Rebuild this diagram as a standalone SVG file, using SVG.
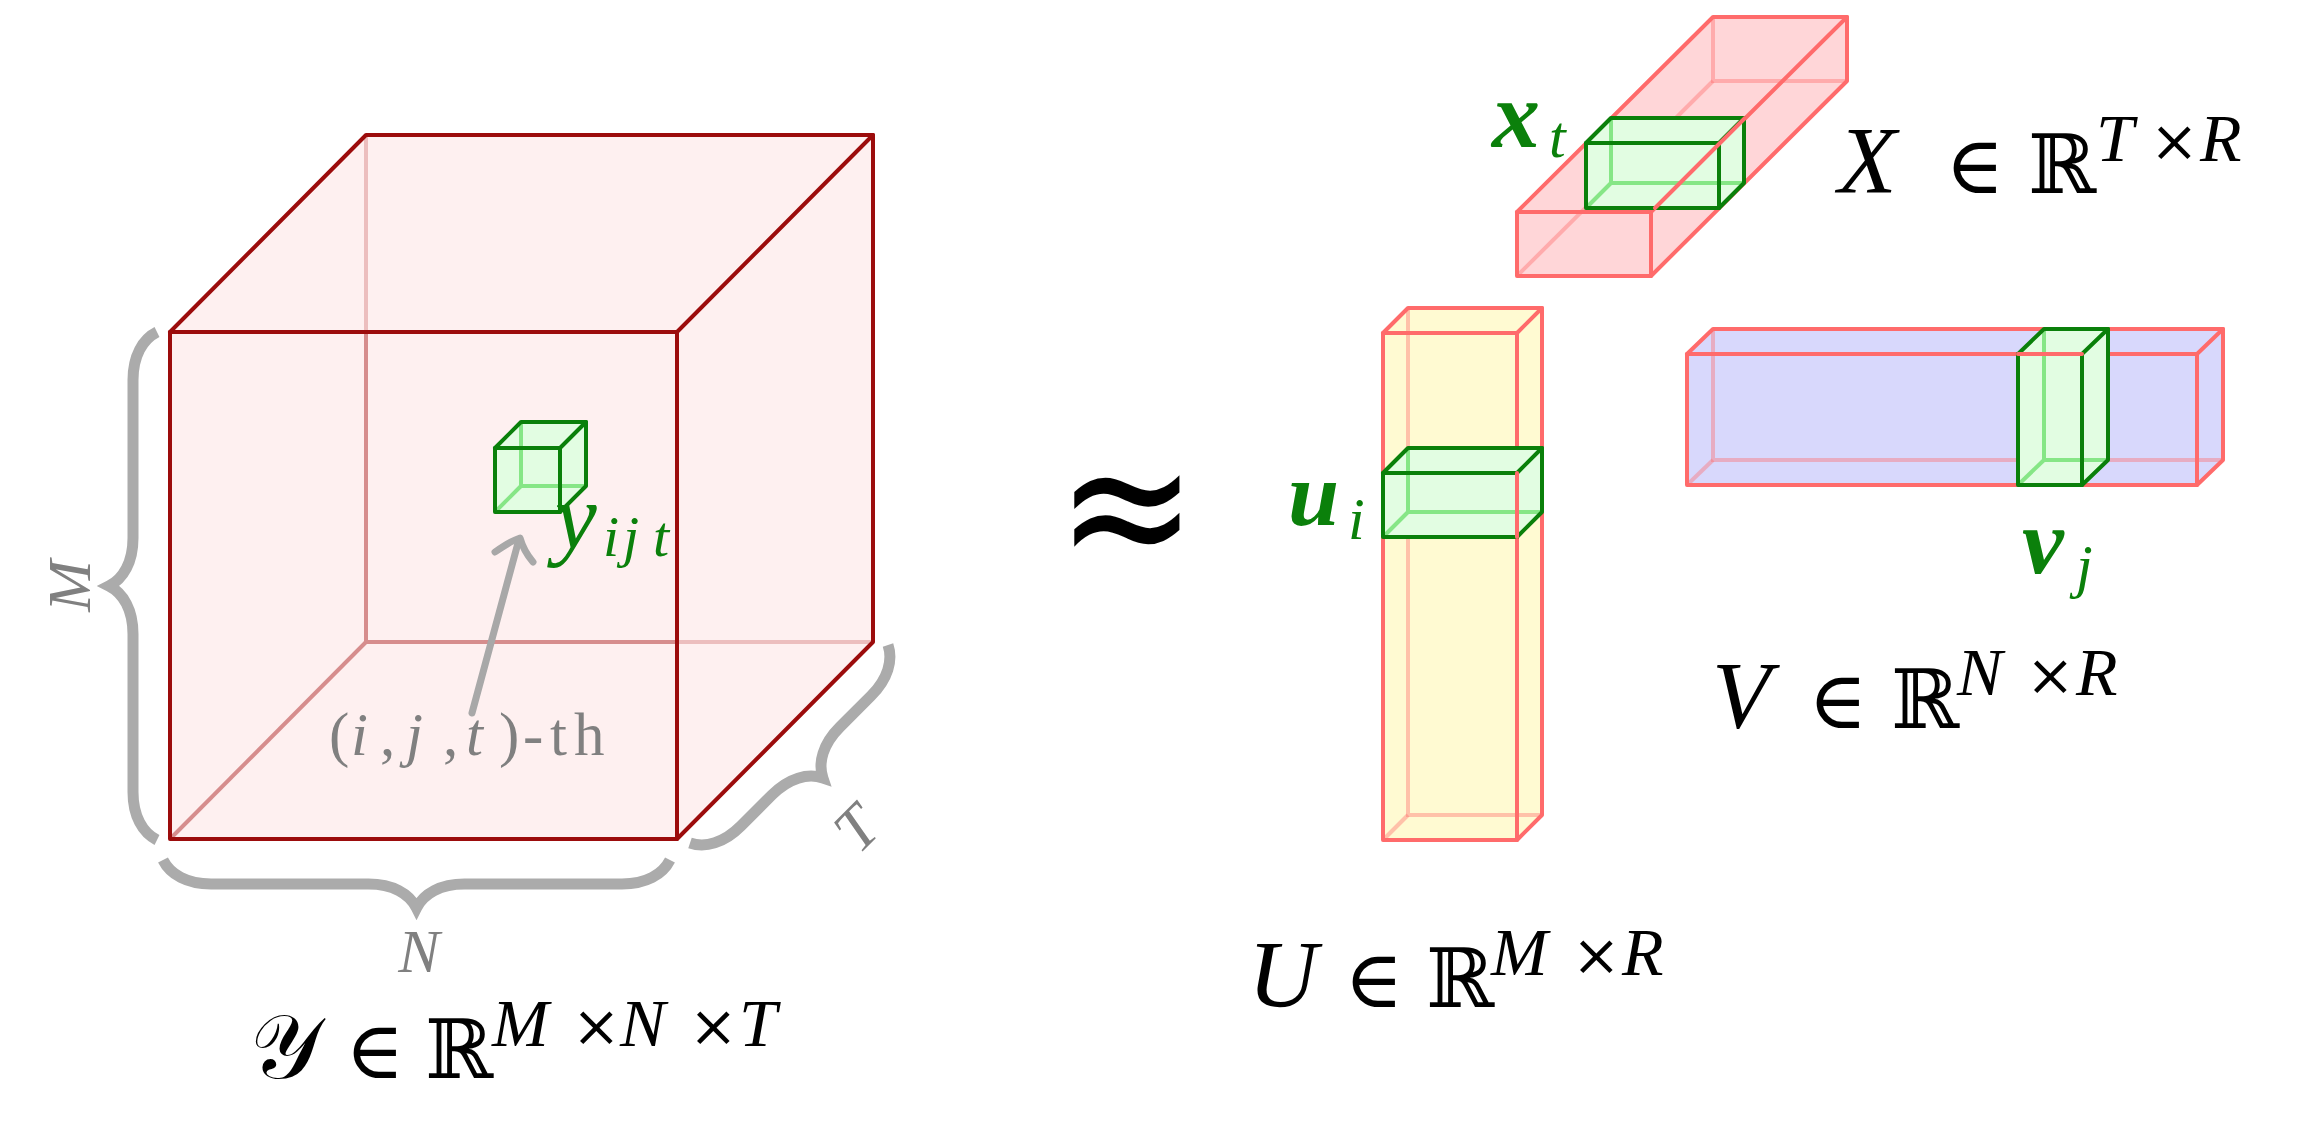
<svg xmlns="http://www.w3.org/2000/svg" width="2300" height="1136" viewBox="0 0 2300 1136">
<style>
.cubeE{fill:none;stroke:#9c0c0c;stroke-width:4;stroke-linejoin:round;stroke-linecap:round}
.cubeHin{fill:none;stroke:#d68d8d;stroke-width:4}
.cubeHout{fill:none;stroke:#ecbebe;stroke-width:4}
.barE{fill:none;stroke:#ff6b6b;stroke-width:4;stroke-linejoin:round;stroke-linecap:round}
.barH{fill:none;stroke:#ff6b6b;stroke-opacity:0.4;stroke-width:4}
.grE{fill:none;stroke:#0a800a;stroke-width:4;stroke-linejoin:round;stroke-linecap:round}
.grH{fill:none;stroke:#86e686;stroke-width:4}
.grF{fill:#e2fde2}
.brace{fill:none;stroke:#ababab;stroke-width:11;stroke-linecap:butt}
.gray{fill:#808080;font-family:"Liberation Serif","DejaVu Serif",serif;font-style:italic}
.math{font-family:"Liberation Serif","DejaVu Serif",serif;font-style:italic;fill:#000}
.sym{font-family:"DejaVu Serif","DejaVu Sans",serif;font-style:normal}
.grT{fill:#0b800b;font-family:"Liberation Serif","DejaVu Serif",serif;font-style:italic}
.up{font-style:normal}
</style>

<g id="tensor-Y">
  <polygon points="170,332 366,135 873,135 873,642 677,839 170,839" fill="#fef0f0"/>
  <line class="cubeHout" x1="366" y1="135" x2="366" y2="332"/>
  <line class="cubeHin" x1="366" y1="332" x2="366" y2="642"/>
  <line class="cubeHin" x1="366" y1="642" x2="677" y2="642"/>
  <line class="cubeHout" x1="677" y1="642" x2="873" y2="642"/>
  <line class="cubeHin" x1="366" y1="642" x2="170" y2="839"/>
  <rect class="cubeE" x="170" y="332" width="507" height="507"/>
  <polyline class="cubeE" points="170,332 366,135 873,135 677,332"/>
  <polyline class="cubeE" points="873,135 873,642 677,839"/>
</g>

<g id="cell-y">
  <polygon class="grF" points="495,448 521,422 586,422 586,486 560,512 495,512"/>
  <polyline class="grH" points="521,422 521,486 586,486"/>
  <line class="grH" x1="521" y1="486" x2="495" y2="512"/>
  <rect class="grE" x="495" y="448" width="65" height="64"/>
  <polyline class="grE" points="495,448 521,422 586,422 560,448"/>
  <polyline class="grE" points="586,422 586,486 560,512"/>
  <text class="grT" y="548" font-size="94"><tspan x="555">y</tspan><tspan x="603" y="556" font-size="58">i</tspan><tspan x="623" y="556" font-size="58">j</tspan><tspan x="653" y="556" font-size="58">t</tspan></text>
</g>

<g id="braces">
  <path class="brace" d="M157,840 C142.6,832.8 133,816 133,792 L133,634 C133,610 123.4,593.2 109,586 C123.4,578.8 133,562 133,538 L133,380 C133,356 142.6,339.2 157,332"/>
  <path class="brace" d="M163,860 C170.2,874.4 187,884 211,884 L368.5,884 C392.5,884 409.3,893.6 416.5,908 C423.7,893.6 440.5,884 464.5,884 L622,884 C646,884 662.8,874.4 670,860"/>
  <path class="brace" d="M690,843 C705.3,848.1 723.9,843 740.9,826 L772,794.9 C789,778 807.7,772.9 822.9,778 C817.8,762.7 822.9,744 839.9,727 L871,695.9 C888,679 893.1,660.3 888,645"/>
  <text class="gray" font-size="62" text-anchor="middle" transform="translate(90,586) rotate(-90)">M</text>
  <text class="gray" font-size="62" text-anchor="middle" x="419" y="972">N</text>
  <text class="gray" font-size="62" text-anchor="middle" transform="translate(871,843) rotate(-45)">T</text>
</g>

<g id="connectors">
  <line x1="472" y1="713" x2="518" y2="543" stroke="#a8a8a8" stroke-width="7" stroke-linecap="round"/>
  <path d="M495,552 C505,545 513,540 520,538 C522,545 527,555 533,562" fill="none" stroke="#a8a8a8" stroke-width="7" stroke-linecap="round" stroke-linejoin="round"/>
</g>

<g id="label-ijt">
  <text class="gray" font-size="61" y="755"><tspan x="329" class="up">(</tspan><tspan x="351">i</tspan><tspan x="380" class="up">,</tspan><tspan x="406">j</tspan><tspan x="443" class="up">,</tspan><tspan x="466">t</tspan><tspan x="499" class="up">)</tspan><tspan x="523" class="up">-</tspan><tspan x="550" class="up">t</tspan><tspan x="574" class="up">h</tspan></text>
</g>

<g id="label-Y">
  <text class="math" y="1078" font-size="94"><tspan x="250" class="sym" font-size="90">𝒴</tspan><tspan x="345" class="sym" font-size="80">∈</tspan><tspan x="425" class="sym" font-size="82">ℝ</tspan><tspan x="492" y="1046" font-size="68">M</tspan><tspan x="572" y="1046" class="sym" font-size="58">×</tspan><tspan x="620" y="1046" font-size="68">N</tspan><tspan x="689" y="1046" class="sym" font-size="58">×</tspan><tspan x="739" y="1046" font-size="68">T</tspan></text>
</g>

<text x="1127" y="0" font-family="DejaVu Sans" font-size="168" text-anchor="middle" transform="translate(0,573) scale(1,1.18)">≈</text>

<g id="factor-X">
  <polygon points="1517,212 1713,17 1847,17 1847,81 1651,276 1517,276" fill="#ffd6d8"/>
  <polyline class="barH" points="1713,17 1713,81 1847,81"/>
  <line class="barH" x1="1713" y1="81" x2="1517" y2="276"/>
  <rect class="barE" x="1517" y="212" width="134" height="64"/>
  <polyline class="barE" points="1517,212 1713,17 1847,17 1651,212"/>
  <polyline class="barE" points="1847,17 1847,81 1651,276"/>
</g>
<g id="cell-x">
  <polygon class="grF" points="1586,143 1611,118 1744,118 1744,183 1719,208 1586,208"/>
  <polyline class="grH" points="1611,118 1611,183 1744,183"/>
  <line class="grH" x1="1611" y1="183" x2="1586" y2="208"/>
  <rect class="grE" x="1586" y="143" width="133" height="65"/>
  <polyline class="grE" points="1586,143 1611,118 1744,118 1719,143"/>
  <polyline class="grE" points="1744,118 1744,183 1719,208"/>
  <line class="barE" x1="1655" y1="208" x2="1745" y2="118"/>
  <text class="grT" x="1492" y="147" font-size="96" font-weight="bold">x<tspan x="1549" y="157" font-size="60" font-weight="normal">t</tspan></text>
</g>

<g id="factor-U">
  <polygon points="1383,333 1408,308 1542,308 1542,815 1517,840 1383,840" fill="#fffad2"/>
  <polyline class="barH" points="1408,308 1408,815 1542,815"/>
  <line class="barH" x1="1408" y1="815" x2="1383" y2="840"/>
  <rect class="barE" x="1383" y="333" width="134" height="507"/>
  <polyline class="barE" points="1383,333 1408,308 1542,308 1517,333"/>
  <polyline class="barE" points="1542,308 1542,815 1517,840"/>
</g>
<g id="cell-u">
  <polygon class="grF" points="1383,473 1408,448 1542,448 1542,512 1517,537 1383,537"/>
  <polyline class="grH" points="1408,448 1408,512 1542,512"/>
  <line class="grH" x1="1408" y1="512" x2="1383" y2="537"/>
  <rect class="grE" x="1383" y="473" width="134" height="64"/>
  <polyline class="grE" points="1383,473 1408,448 1542,448 1517,473"/>
  <polyline class="grE" points="1542,448 1542,512 1517,537"/>
  <line class="barE" x1="1517" y1="473" x2="1517" y2="537"/>
  <text class="grT" x="1288" y="525" font-size="92" font-weight="bold">u<tspan x="1348" y="539" font-size="60" font-weight="normal">i</tspan></text>
</g>

<g id="factor-V">
  <polygon points="1687,354 1713,329 2223,329 2223,460 2197,485 1687,485" fill="#d8d8fc"/>
  <polyline class="barH" points="1713,329 1713,460 2223,460"/>
  <line class="barH" x1="1713" y1="460" x2="1687" y2="485"/>
  <rect class="barE" x="1687" y="354" width="510" height="131"/>
  <polyline class="barE" points="1687,354 1713,329 2223,329 2197,354"/>
  <polyline class="barE" points="2223,329 2223,460 2197,485"/>
</g>
<g id="cell-v">
  <polygon class="grF" points="2018,354 2044,329 2108,329 2108,460 2082,485 2018,485"/>
  <polyline class="grH" points="2044,329 2044,460 2108,460"/>
  <line class="grH" x1="2044" y1="460" x2="2018" y2="485"/>
  <rect class="grE" x="2018" y="354" width="64" height="131"/>
  <polyline class="grE" points="2018,354 2044,329 2108,329 2082,354"/>
  <polyline class="grE" points="2108,329 2108,460 2082,485"/>
  <line class="barE" x1="2018" y1="354" x2="2082" y2="354"/>
  <text class="grT" x="2022" y="573" font-size="94" font-weight="bold">v<tspan x="2076" y="586" font-size="60" font-weight="normal">j</tspan></text>
</g>

<g id="label-X">
  <text class="math" y="193" font-size="96"><tspan x="1838">X</tspan><tspan x="1945" class="sym" font-size="80">∈</tspan><tspan x="2028" class="sym" font-size="82">ℝ</tspan><tspan x="2096" y="161" font-size="68">T</tspan><tspan x="2150" y="161" class="sym" font-size="58">×</tspan><tspan x="2200" y="161" font-size="68">R</tspan></text>
</g>
<g id="label-V">
  <text class="math" y="728" font-size="96"><tspan x="1712">V</tspan><tspan x="1808" class="sym" font-size="80">∈</tspan><tspan x="1891" class="sym" font-size="82">ℝ</tspan><tspan x="1957" y="695" font-size="68">N</tspan><tspan x="2026" y="695" class="sym" font-size="58">×</tspan><tspan x="2076" y="695" font-size="68">R</tspan></text>
</g>
<g id="label-U">
  <text class="math" y="1007" font-size="96"><tspan x="1248">U</tspan><tspan x="1344" class="sym" font-size="80">∈</tspan><tspan x="1426" class="sym" font-size="82">ℝ</tspan><tspan x="1491" y="975" font-size="68">M</tspan><tspan x="1572" y="975" class="sym" font-size="58">×</tspan><tspan x="1622" y="975" font-size="68">R</tspan></text>
</g>
</svg>
